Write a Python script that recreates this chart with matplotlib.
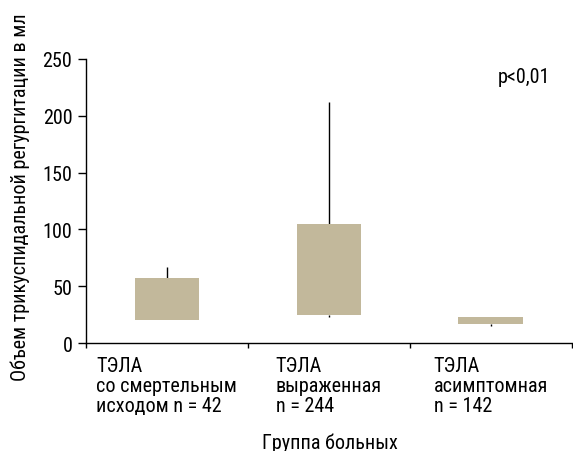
import matplotlib
matplotlib.use("Agg")
import matplotlib.pyplot as plt

plt.rcParams['font.family'] = ['Roboto Condensed', 'DejaVu Sans']

groups = ["ТЭЛА\nсо смертельным\nисходом n = 42",
          "ТЭЛА\nвыраженная\nn = 244",
          "ТЭЛА\nасимптомная\nn = 142"]
box_low = [20, 25, 17]
box_high = [57, 105, 23]
whisk_low = [20, 22.5, 15]
whisk_high = [67, 212, 23]
yticks = [0, 50, 100, 150, 200, 250]

FS = 14.5
fig = plt.figure(figsize=(5.73, 4.52), dpi=100)
ax = fig.add_axes([0.150, 0.2389, 0.848, 0.6284])

xs = list(range(len(groups)))
ax.bar(xs, [h - l for h, l in zip(box_high, box_low)], bottom=box_low,
       width=0.4, color='#C2B89B', zorder=2)
ax.vlines(xs, box_high, whisk_high, color='black', lw=1.0, zorder=1)
ax.vlines(xs, whisk_low, box_low, color='black', lw=1.0, zorder=1)

ax.set_xlim(-0.5, len(groups) - 0.5)
ax.set_ylim(0, 250)
ax.set_yticks(yticks)
ax.set_xticks([i - 0.5 for i in range(len(groups) + 1)])
ax.set_xticklabels([])
ax.tick_params(axis='y', direction='out', length=5.8, width=1, labelsize=FS, pad=4)
ax.tick_params(axis='x', direction='out', length=3.6, width=1)
for s in ['top', 'right']:
    ax.spines[s].set_visible(False)
for s in ['left', 'bottom']:
    ax.spines[s].set_linewidth(1.0)

for x, g in zip(xs, groups):
    ax.text(x, -0.045, g, transform=ax.get_xaxis_transform(), ha='center', va='top',
            multialignment='left', fontsize=FS, linespacing=1.07)

fig.text(0.575, 0.006, "Группа больных", ha='center', va='baseline', fontsize=FS)
fig.text(0.035, 0.563, "Объем трикуспидальной регургитации в мл", rotation=90,
         ha='center', va='center', fontsize=FS)
ax.text(0.902, 0.94, "p<0,01", transform=ax.transAxes, ha='center', va='center', fontsize=FS)

fig.savefig("out.png", dpi=100)
